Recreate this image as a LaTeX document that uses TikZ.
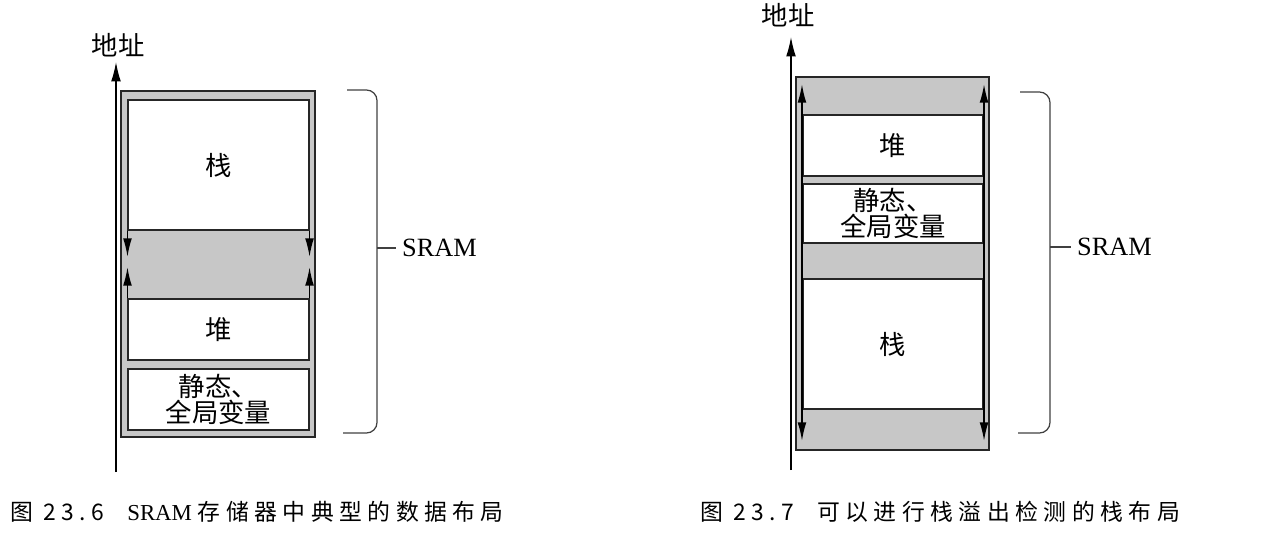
\documentclass[tikz,border=0pt]{standalone}
\usepackage{fontspec}
\setmainfont{Liberation Serif}
\newfontfamily\cjk{Noto Sans CJK SC}
\newfontfamily\capcjk[LetterSpace=24]{Noto Sans CJK SC}
\usetikzlibrary{arrows.meta}
\begin{document}
\begin{tikzpicture}[x=0.02cm, y=-0.02cm,
  frame/.style={draw=black!85, line width=0.9pt, fill=black!22, minimum width=3.87cm, inner sep=0pt},
  block/.style={draw=black!85, line width=0.9pt, fill=white, minimum width=3.61cm, inner sep=0pt, align=center, font=\cjk\fontsize{15}{14.5}\selectfont},
  axis/.style={line width=0.7pt, -{Latex[length=11pt,width=5.5pt]}},
  growarrow/.style={line width=0.8pt, -{Latex[length=10.5pt,width=5pt]}},
  brace/.style={line width=0.7pt, draw=black!75, rounded corners=6pt},
  lbl/.style={font=\cjk\fontsize{15}{15}\selectfont},
  sram/.style={anchor=west, font=\fontsize{15}{15}\selectfont},
  caption/.style={anchor=west, font=\capcjk\fontsize{13}{13}\selectfont}]
\useasboundingbox (0,0) rectangle (1264,541);
% left: typical layout
\coordinate (axL0) at (116,472);
\coordinate (axL1) at (116,62);
\draw[axis] (axL0) -- (axL1);
\node[lbl] (addrL) at (118,45) {地址};
\node[frame, minimum height=6.92cm] (frameL) at (218,264) {};
\node[block, minimum height=2.6cm] (stackL) at (218.5,165) {栈};
\node[block, minimum height=1.22cm] (heapL) at (218.5,329.5) {堆};
\node[block, minimum height=1.22cm] (dataL) at (218.5,399.5) {静态、\\全局变量};
\draw[growarrow] (stackL.south west) -- ++(0,26);
\draw[growarrow] (stackL.south east) -- ++(0,26);
\draw[growarrow] (heapL.north west) -- ++(0,-31);
\draw[growarrow] (heapL.north east) -- ++(0,-31);
\draw[brace] (347,90) -- (377,90) -- (377,433) -- (343,433);
\coordinate (bkL) at (377,248);
\node[sram] (sramL) at (396,248) {SRAM};
\draw[brace] (bkL) -- (sramL.west);
\node[caption] (capL) at (4,512) {图 23.6\quad{\rmfamily SRAM }存储器中典型的数据布局};
% right: layout with overflow check
\coordinate (axR0) at (791,470);
\coordinate (axR1) at (791,37);
\draw[axis] (axR0) -- (axR1);
\node[lbl] (addrR) at (788,15) {地址};
\node[frame, minimum height=7.46cm] (frameR) at (892.5,263.5) {};
\node[block, minimum height=1.22cm] (heapR) at (893,145.5) {堆};
\node[block, minimum height=1.18cm] (dataR) at (893,213.5) {静态、\\全局变量};
\node[block, minimum height=2.6cm] (stackR) at (893,344) {栈};
\draw[growarrow] (stackR.north west) -- ++(0,-194);
\draw[growarrow] (stackR.north east) -- ++(0,-194);
\draw[growarrow] (dataR.south west) -- ++(0,197);
\draw[growarrow] (dataR.south east) -- ++(0,197);
\draw[brace] (1020,92) -- (1050,92) -- (1050,433) -- (1018,433);
\coordinate (bkR) at (1050,247);
\node[sram] (sramR) at (1071,247) {SRAM};
\draw[brace] (bkR) -- (sramR.west);
\node[caption] (capR) at (694,512) {图 23.7\quad 可以进行栈溢出检测的栈布局};
\end{tikzpicture}
\end{document}
